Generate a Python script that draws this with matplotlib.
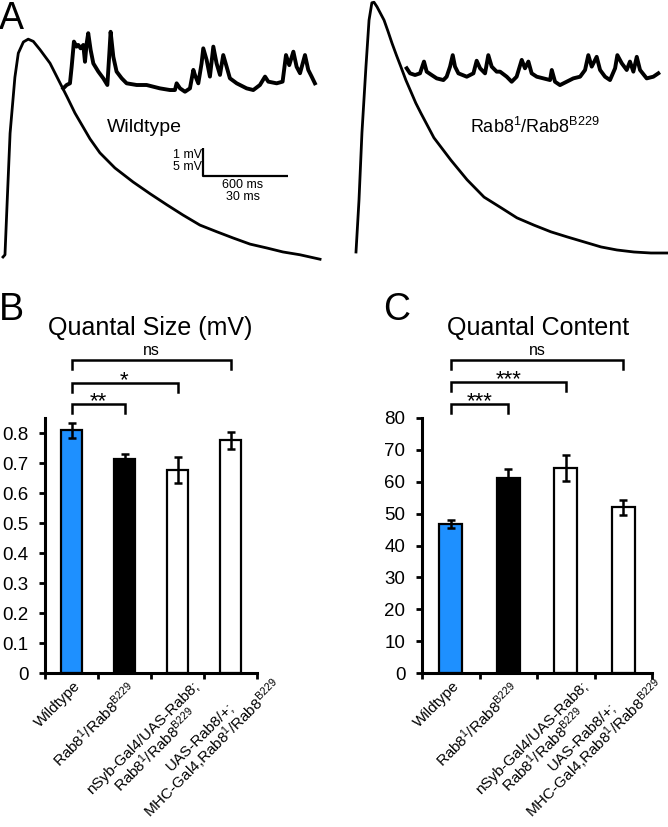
import numpy as np
import matplotlib
matplotlib.use('Agg')
import matplotlib.pyplot as plt
from matplotlib.transforms import ScaledTranslation

plt.rcParams['font.family'] = ['Liberation Sans', 'DejaVu Sans']
plt.rcParams['mathtext.fontset'] = 'custom'
plt.rcParams['mathtext.rm'] = 'Liberation Sans'
plt.rcParams['mathtext.default'] = 'regular'

# ---- data -------------------------------------------------------------
genotypes = ['Wildtype',
             'Rab8$^{1}$/Rab8$^{B229}$',
             'nSyb-Gal4/UAS-Rab8;\nRab8$^{1}$/Rab8$^{B229}$',
             'UAS-Rab8/+;\nMHC-Gal4,Rab8$^{1}$/Rab8$^{B229}$']
bar_colors = ['#1E90FF', 'black', 'white', 'white']

size_mean = [0.81, 0.715, 0.677, 0.776]
size_sem = [0.025, 0.016, 0.042, 0.028]
content_mean = [46.7, 61.2, 64.3, 52.0]
content_sem = [1.3, 2.7, 4.0, 2.3]

# comparisons: (group a, group b, label)
size_stats = [(0, 3, 'ns'), (0, 2, '*'), (0, 1, '**')]
content_stats = [(0, 3, 'ns'), (0, 2, '***'), (0, 1, '***')]

# evoked EPSPs (ms, mV)
epsp_wt_t = [0, 0.7, 1.5, 2.5, 4.2, 5.4, 7.2, 8.9, 10.7, 13.1, 16.6, 22.6, 25.4, 30.7,
             34.2, 39.5, 45.9, 51.9, 57.9, 63.5, 69.5, 75.5, 81.2, 87.2, 93.2, 98.8,
             104.8, 111.9]
epsp_wt_v = [0, 0.4, 10.2, 22.1, 32.1, 36.4, 38.4, 38.9, 38.5, 37.0, 34.6, 28.6, 25.7, 21.1,
             18.6, 15.9, 13.4, 11.3, 9.3, 7.5, 5.7, 4.5, 3.4, 2.3, 1.6, 0.9,
             0.4, -0.4]
epsp_mut_t = [0, 1.06, 2.1, 3.5, 4.6, 5.6, 6.35, 7.4, 9.9, 11.3, 12.7, 14.3, 15.9, 17.6,
              19.4, 21.1, 22.9, 27.5, 33.5, 39.2, 45.2, 51.2, 56.8, 62.8, 68.8, 74.5,
              80.5, 86.5, 92.1, 98.1, 104.1, 109.8]
epsp_mut_v = [0, 9.3, 21.3, 33.0, 41.4, 44.5, 44.6, 43.8, 41.4, 39.4, 37.3, 35.1, 33.0, 30.7,
              28.6, 26.6, 24.8, 20.4, 16.4, 12.9, 9.8, 7.9, 6.1, 4.8, 3.6, 2.7,
              1.8, 0.9, 0.36, 0, -0.18, -0.18]

# spontaneous minis (ms, mV)
mini_wt_t = [0, 23.5, 47, 59, 75, 94, 106, 122, 141, 153, 165, 176, 193, 212, 247, 282,
             311, 325, 334, 353, 376, 412, 447, 518, 588, 682, 753, 788, 800, 824, 859,
             894, 918, 929, 953, 976, 988, 1012, 1035, 1059, 1082, 1106, 1129, 1153,
             1176, 1224, 1294, 1341, 1388, 1424, 1447, 1506, 1548, 1572, 1595, 1624,
             1647, 1671, 1706, 1729, 1753, 1776]
mini_wt_v = [-0.12, 0, 0.06, 0.65, 1.55, 1.37, 1.43, 1.31, 1.43, 0.83, 1.49, 1.85, 1.25,
             0.77, 0.48, 0.24, 0, 1.13, 1.90, 1.01, 0.48, 0.24, 0.06, 0, 0, -0.12,
             -0.18, -0.18, 0.06, -0.12, -0.24, -0.12, 0.54, 0.36, 0.06, 0.77, 1.31,
             0.89, 0.30, 1.37, 0.77, 0.36, 1.07, 0.65, 0.24, 0.06, -0.12, -0.18, 0,
             0.30, 0.12, 0.06, 0.12, 1.07, 0.71, 1.19, 0.65, 0.42, 1.07, 0.54, 0.30, 0.06]
mini_mut_t = [0, 23.5, 59, 94, 122, 141, 176, 212, 259, 282, 306, 325, 341, 365, 424,
              471, 494, 518, 553, 576, 600, 635, 659, 706, 741, 776, 812, 835, 859, 882,
              918, 965, 1012, 1024, 1047, 1082, 1129, 1176, 1224, 1259, 1282, 1306,
              1341, 1365, 1400, 1435, 1471, 1487, 1518, 1553, 1576, 1600, 1624, 1647,
              1694, 1741, 1776]
mini_mut_v = [0.30, 0.12, 0.06, 0.12, 0.54, 0.18, 0.06, -0.06, -0.12, 0, 0.36, 0.77,
              0.36, 0.12, 0, 0.12, 0.57, 0.30, 0.12, 0.77, 0.36, 0.18, 0.18, 0, -0.18,
              0, 0.60, 0.30, 0.54, 0.12, 0, -0.06, -0.12, 0.24, -0.18, -0.30, -0.18,
              -0.06, 0, 0.24, 0.77, 0.36, 0.71, 0.24, 0, -0.12, 0.30, 0.77, 0.48, 0.24,
              0.54, 0.18, 0.71, 0.24, -0.06, 0, 0.12]

# ---- figure -----------------------------------------------------------
W, H = 668, 827
fig = plt.figure(figsize=(W / 100, H / 100), dpi=100)


def rect(x0, y0, x1, y1):
    # pixel box (origin top-left) -> figure fraction
    return [x0 / W, 1 - y1 / H, (x1 - x0) / W, (y1 - y0) / H]


def fxy(x, y):
    return x / W, 1 - y / H


# scale: 30 ms / 5 mV for EPSPs, 600 ms / 1 mV for minis (85 px x 28 px)
ms_px = 30 / 85
mv_px = 5 / 28
mini_ms_px = 600 / 85
mini_mv_px = 1 / 28

# panel A, left half
ax = fig.add_axes(rect(0, 0, 334, 272))
ax.axis('off')
ax.set_xlim(-3 * ms_px, 331 * ms_px)
ax.set_ylim(-15 * mv_px, 257 * mv_px)
ax.plot(epsp_wt_t, epsp_wt_v, color='black', lw=2.0, solid_joinstyle='round')

axm = fig.add_axes(rect(0, 0, 334, 272), label='mini_wt')
axm.axis('off')
axm.set_xlim(-63.3 * mini_ms_px, (334 - 63.3) * mini_ms_px)
axm.set_ylim(-(272 - 85) * mini_mv_px, 85 * mini_mv_px)
axm.plot(mini_wt_t, mini_wt_v, color='black', lw=2.8, solid_joinstyle='round')
# scale bar
sb_x, sb_y = 986, -3.25
axm.plot([sb_x, sb_x, sb_x + 600], [sb_y + 1, sb_y, sb_y], color='black', lw=1.6,
         solid_capstyle='butt')

# panel A, right half
ax2 = fig.add_axes(rect(334, 0, 668, 272))
ax2.axis('off')
ax2.set_xlim(-22 * ms_px, 312 * ms_px)
ax2.set_ylim(-20 * mv_px, 252 * mv_px)
ax2.plot(epsp_mut_t, epsp_mut_v, color='black', lw=2.0, solid_joinstyle='round')

ax2m = fig.add_axes(rect(334, 0, 668, 272), label='mini_mut')
ax2m.axis('off')
ax2m.set_xlim(-72.7 * mini_ms_px, (334 - 72.7) * mini_ms_px)
ax2m.set_ylim(-(272 - 76.7) * mini_mv_px, 76.7 * mini_mv_px)
ax2m.plot(mini_mut_t, mini_mut_v, color='black', lw=2.8, solid_joinstyle='round')

fig.text(*fxy(144, 128), 'Wildtype', fontsize=14, ha='center', va='center')
fig.text(*fxy(535, 127), 'Rab8$^{1}$/Rab8$^{B229}$', fontsize=13, ha='center', va='center')
fig.text(*fxy(202, 155.5), '1 mV', fontsize=9, ha='right', va='center')
fig.text(*fxy(202, 167.5), '5 mV', fontsize=9, ha='right', va='center')
fig.text(*fxy(243, 184.5), '600 ms', fontsize=9, ha='center', va='center')
fig.text(*fxy(243, 197), '30 ms', fontsize=9, ha='center', va='center')

# panel letters
fig.text(*fxy(-1, 1), 'A', fontsize=27, ha='left', va='top')
fig.text(*fxy(-1, 292), 'B', fontsize=27, ha='left', va='top')
fig.text(*fxy(383, 292), 'C', fontsize=27, ha='left', va='top')

# ---- bar panels --------------------------------------------------------
x = np.arange(len(genotypes))
label_dy = [-6, -6, -6, 7]   # pixel shift of rotated labels


def bar_panel(box, means, sems, ymax, yticks, stats, stat_y, title, title_x, label_dx):
    ax = fig.add_axes(rect(*box))
    ax.bar(x, means, width=0.4, color=bar_colors, edgecolor='black', linewidth=1.6,
           zorder=2)
    ax.errorbar(x, means, yerr=sems, fmt='none', ecolor='black', elinewidth=1.8,
                capsize=2.8, capthick=1.8, zorder=3)
    ax.set_xlim(-0.5, len(genotypes) - 0.5)
    ax.set_ylim(0, ymax)
    ax.set_xticks(np.arange(len(genotypes) + 1) - 0.5)
    ax.set_xticklabels([])
    ax.set_yticks(yticks, labels=[f'{t:g}' for t in yticks])
    for s in ['top', 'right']:
        ax.spines[s].set_visible(False)
    for s in ['left', 'bottom']:
        ax.spines[s].set_linewidth(2.2)
    ax.tick_params(axis='y', length=4, width=2, labelsize=13.5, pad=8)
    ax.tick_params(axis='x', length=4, width=2)

    for i, lab in enumerate(genotypes):
        t = ax.text(i, 0, lab, fontsize=11, rotation=45, rotation_mode='anchor',
                    ha='right', va='top', multialignment='center', linespacing=1.0,
                    transform=ax.get_xaxis_transform())
        t.set_transform(t.get_transform() +
                        ScaledTranslation(label_dx[i] / 100, label_dy[i] / 100,
                                          fig.dpi_scale_trans))

    for (a, b, lab), yy in zip(stats, stat_y):
        leg = 0.036 * ymax
        ax.plot([a, a, b, b], [yy - leg, yy, yy, yy - leg], color='black', lw=1.8,
                clip_on=False, solid_joinstyle='miter')
        if lab == 'ns':
            ax.text((a + b) / 2, yy + 0.008 * ymax, lab, ha='center', va='bottom',
                    fontsize=11.5)
        else:
            ax.text((a + b) / 2, yy - 0.013 * ymax, lab, ha='center', va='baseline',
                    fontsize=16)

    fig.text(*fxy(title_x, 328), title, fontsize=18, ha='center', va='center')
    return ax


bar_panel((45, 418, 257, 673), size_mean, size_sem, 0.85,
          np.round(np.arange(0, 0.81, 0.1), 1), size_stats, [1.043, 0.967, 0.897],
          'Quantal Size (mV)', 150, [2, 2, 15, 31])
bar_panel((422, 418, 652, 673), content_mean, content_sem, 80,
          np.arange(0, 81, 10), content_stats, [98.2, 91.3, 84.4],
          'Quantal Content', 538, [2, 2, 15, 20])

fig.savefig('out.png', dpi=100)
